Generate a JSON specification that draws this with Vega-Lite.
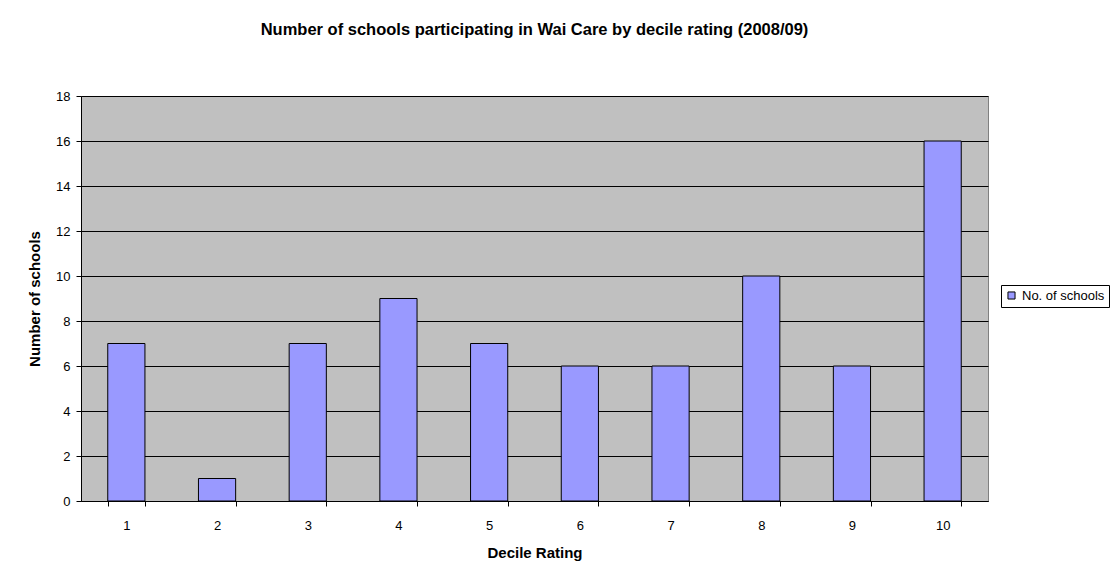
{
  "$schema": "https://vega.github.io/schema/vega-lite/v6.json",
  "autosize": "none",
  "width": 907,
  "height": 405,
  "padding": {"left": 81, "top": 96, "right": 132, "bottom": 71},
  "background": "white",
  "title": {
    "text": "Number of schools participating in Wai Care by decile rating (2008/09)",
    "font": "Liberation Sans",
    "fontSize": 16.5,
    "fontWeight": "bold",
    "color": "black",
    "anchor": "middle",
    "offset": 52
  },
  "data": {
    "values": [
      {"decile": "1", "schools": 7, "series": "No. of schools"},
      {"decile": "2", "schools": 1, "series": "No. of schools"},
      {"decile": "3", "schools": 7, "series": "No. of schools"},
      {"decile": "4", "schools": 9, "series": "No. of schools"},
      {"decile": "5", "schools": 7, "series": "No. of schools"},
      {"decile": "6", "schools": 6, "series": "No. of schools"},
      {"decile": "7", "schools": 6, "series": "No. of schools"},
      {"decile": "8", "schools": 10, "series": "No. of schools"},
      {"decile": "9", "schools": 6, "series": "No. of schools"},
      {"decile": "10", "schools": 16, "series": "No. of schools"}
    ]
  },
  "mark": {"type": "bar", "stroke": "black", "strokeWidth": 1},
  "encoding": {
    "x": {
      "field": "decile",
      "type": "ordinal",
      "sort": null,
      "title": "Decile Rating",
      "scale": {"paddingInner": 0.59, "paddingOuter": 0.295},
      "axis": {
        "labelAngle": 0,
        "tickBand": "extent",
        "tickSize": 5,
        "tickColor": "black",
        "domainColor": "black",
        "labelPadding": 13,
        "labelFont": "Liberation Sans",
        "labelFontSize": 13,
        "labelColor": "black",
        "titleFont": "Liberation Sans",
        "titleFontSize": 15,
        "titleFontWeight": "bold",
        "titleColor": "black",
        "titlePadding": 13,
        "grid": false
      }
    },
    "y": {
      "field": "schools",
      "type": "quantitative",
      "title": "Number of schools",
      "scale": {"domain": [0, 18], "nice": false},
      "axis": {
        "values": [0, 2, 4, 6, 8, 10, 12, 14, 16, 18],
        "tickSize": 5,
        "tickColor": "black",
        "domainColor": "black",
        "grid": true,
        "gridColor": "black",
        "gridOpacity": 1,
        "gridWidth": 1,
        "labelPadding": 6,
        "labelFont": "Liberation Sans",
        "labelFontSize": 13,
        "labelColor": "black",
        "titleFont": "Liberation Sans",
        "titleFontSize": 15,
        "titleFontWeight": "bold",
        "titleColor": "black",
        "titlePadding": 13
      }
    },
    "color": {
      "field": "series",
      "type": "nominal",
      "scale": {"range": ["#9999FF"]},
      "legend": {
        "title": null,
        "orient": "none",
        "legendX": 920,
        "legendY": 189,
        "strokeColor": "black",
        "fillColor": "white",
        "padding": 4,
        "symbolType": "square",
        "symbolSize": 50,
        "symbolStrokeColor": "black",
        "symbolStrokeWidth": 1,
        "labelFont": "Liberation Sans",
        "labelFontSize": 13,
        "labelColor": "black",
        "labelOffset": 4
      }
    }
  },
  "config": {
    "view": {"fill": "#C0C0C0", "stroke": "#808080", "strokeWidth": 1}
  }
}
